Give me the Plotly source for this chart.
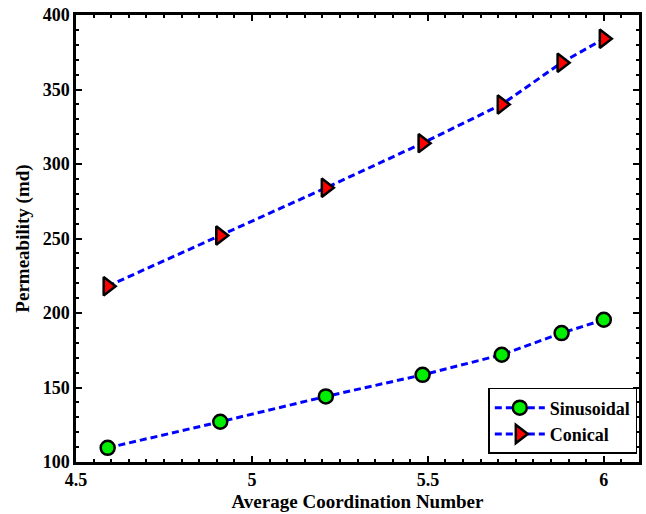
import plotly.graph_objects as go

# Average coordination number for each network
coordination = [4.59, 4.91, 5.21, 5.485, 5.71, 5.88, 6.0]
# Permeability (md) for the two throat shapes
sinusoidal = [109.5, 127, 144, 158.5, 172, 186.5, 195.5]
conical = [218, 252, 284, 314, 340, 368, 384]

# Tick positions and labels
x_ticks = [4.5, 5, 5.5, 6]
x_labels = ["4.5", "5", "5.5", "6"]
y_ticks = [100, 150, 200, 250, 300, 350, 400]
y_labels = ["100", "150", "200", "250", "300", "350", "400"]

font_family = "Times New Roman"

fig = go.Figure()
fig.add_trace(go.Scatter(
    x=coordination, y=sinusoidal, name="<b>Sinusoidal</b>",
    mode="lines+markers",
    line=dict(color="#0000ff", width=3, dash="7px,4px"),
    marker=dict(symbol="circle", size=14, color="#00ee00",
                line=dict(color="black", width=2.5)),
))
fig.add_trace(go.Scatter(
    x=coordination, y=conical, name="<b>Conical</b>",
    mode="lines+markers",
    line=dict(color="#0000ff", width=3, dash="7px,4px"),
    marker=dict(symbol="triangle-right", size=16, color="#ff0000",
                line=dict(color="black", width=2.5)),
))

axis_common = dict(
    showline=True, linecolor="black", linewidth=2.5, mirror="allticks",
    ticks="inside", ticklen=6, tickwidth=2, tickcolor="black",
    showgrid=False, zeroline=False,
    tickfont=dict(family=font_family, size=18, color="black"),
)

fig.update_xaxes(
    range=[4.5, 6.1], tickvals=x_ticks, ticktext=[f"<b>{t}</b>" for t in x_labels],
    minor=dict(dtick=0.05, ticks="inside", ticklen=3, tickwidth=1.5, tickcolor="black", showgrid=False),
    title=dict(text="<b>Average Coordination Number</b>", standoff=6,
               font=dict(family=font_family, size=19, color="black")),
    **axis_common,
)
fig.update_yaxes(
    range=[100, 400], tickvals=y_ticks, ticktext=[f"<b>{t}</b>" for t in y_labels],
    minor=dict(dtick=10, ticks="inside", ticklen=3, tickwidth=1.5, tickcolor="black", showgrid=False),
    title=dict(text="<b>Permeability (md)</b>", standoff=9,
               font=dict(family=font_family, size=19, color="black")),
    **axis_common,
)

fig.update_layout(
    width=646, height=514,
    margin=dict(l=76, r=4, t=15, b=51),
    plot_bgcolor="white", paper_bgcolor="white",
    font=dict(family=font_family),
    showlegend=True,
    legend=dict(
        x=0.997, y=0.018, xanchor="right", yanchor="bottom",
        bgcolor="white", bordercolor="black", borderwidth=1.5,
        font=dict(family=font_family, size=18, color="black"),
        itemwidth=50,
    ),
)

fig.write_html("out.html")
